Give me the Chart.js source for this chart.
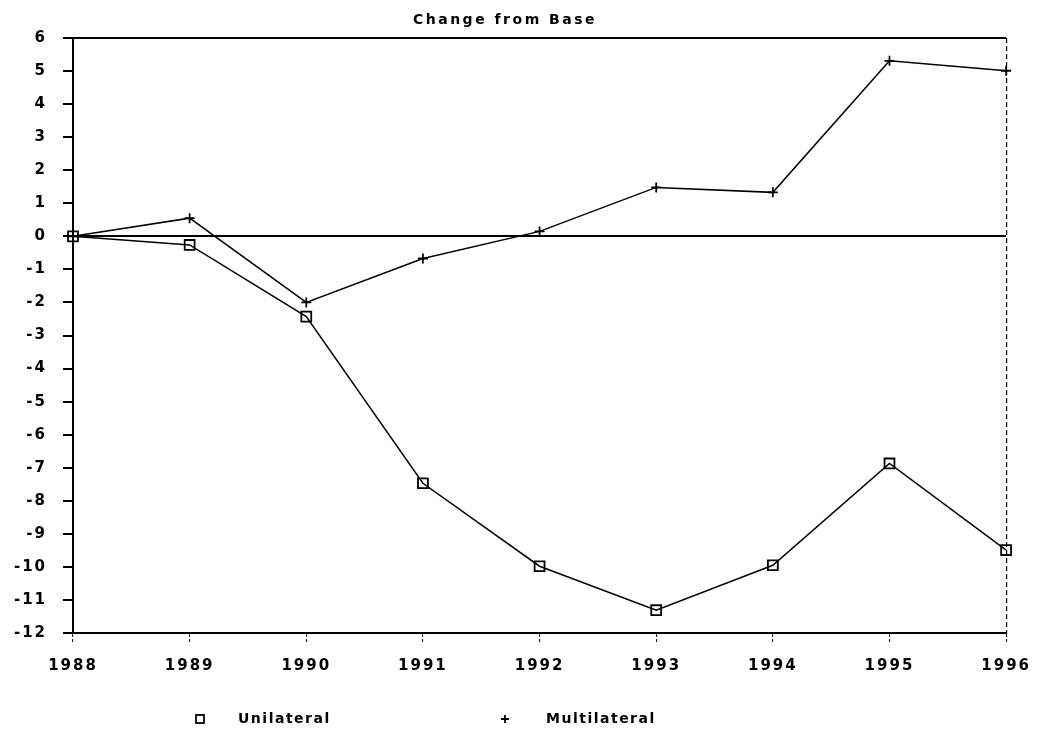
<!DOCTYPE html>
<html>
<head>
<meta charset="utf-8">
<script src="https://cdn.jsdelivr.net/npm/chart.js@4"></script>
<style>
html, body { margin: 0; padding: 0; background: #fff; }
#contenedor { width: 1041px; height: 738px; }
</style>
</head>
<body>
<div id="contenedor"><canvas id="grafica"></canvas></div>
<script>
const anios = ['1988', '1989', '1990', '1991', '1992', '1993', '1994', '1995', '1996'];
const unilateral = [0, -0.26, -2.43, -7.47, -9.98, -11.31, -9.95, -6.87, -9.49];
const multilateral = [0, 0.55, -2.0, -0.67, 0.15, 1.48, 1.33, 5.31, 5.01];
const ticksY = [6, 5, 4, 3, 2, 1, 0, -1, -2, -3, -4, -5, -6, -7, -8, -9, -10, -11, -12];
const titulo = 'Change from Base';
const nombres = ['Unilateral', 'Multilateral'];

const fuente = '"DejaVu Sans", sans-serif';

// espaciado de letras como en el original
const espaciado = {
    id: 'espaciado',
    beforeDraw(chart) {
        chart.ctx.letterSpacing = '2px';
    }
};

// titulo y leyenda dibujados a mano
const textos = {
    id: 'textos',
    afterDraw(chart) {
        const ctx = chart.ctx;
        ctx.save();
        ctx.fillStyle = '#000';
        ctx.strokeStyle = '#000';
        ctx.letterSpacing = '2.5px';
        ctx.font = 'bold 14px ' + fuente;
        ctx.textAlign = 'center';
        ctx.textBaseline = 'middle';
        ctx.fillText(titulo, 505, 20);

        ctx.letterSpacing = '1.5px';
        ctx.font = 'bold 14px ' + fuente;
        ctx.textAlign = 'left';
        const yLey = 719;
        // cuadro
        ctx.lineWidth = 1.8;
        ctx.strokeRect(200 - 4, yLey - 4, 8, 8);
        ctx.fillText(nombres[0], 238, yLey);
        // cruz
        ctx.beginPath();
        ctx.moveTo(505 - 4, yLey);
        ctx.lineTo(505 + 4, yLey);
        ctx.moveTo(505, yLey - 4);
        ctx.lineTo(505, yLey + 4);
        ctx.stroke();
        ctx.fillText(nombres[1], 546, yLey);
        ctx.restore();
    }
};

var grafica = new Chart(document.getElementById('grafica'), {
    type: 'line',
    data: {
        labels: anios,
        datasets: [
            {
                label: nombres[0],
                data: unilateral,
                borderColor: '#000',
                borderWidth: 1.5,
                pointStyle: 'rect',
                pointRadius: 7,
                pointBorderWidth: 1.8,
                pointBorderColor: '#000',
                pointBackgroundColor: 'rgba(0,0,0,0)',
                tension: 0,
                clip: false
            },
            {
                label: nombres[1],
                data: multilateral,
                borderColor: '#000',
                borderWidth: 1.5,
                pointStyle: 'cross',
                pointRadius: 5,
                pointBorderWidth: 1.8,
                pointBorderColor: '#000',
                tension: 0,
                clip: false
            }
        ]
    },
    options: {
        responsive: true,
        maintainAspectRatio: false,
        animation: false,
        layout: { padding: { top: 38, right: 30, bottom: 0, left: 0 } },
        plugins: {
            legend: { display: false },
            title: { display: false },
            tooltip: { enabled: false }
        },
        scales: {
            x: {
                offset: false,
                afterFit: s => { s.height = 105; },
                border: { display: true, color: '#000', width: 2, dash: [5, 3] },
                grid: {
                    color: c => c.index === anios.length - 1 ? '#000' : 'rgba(0,0,0,0)',
                    lineWidth: 1.2,
                    tickColor: '#000',
                    tickLength: 10,
                    tickWidth: 1,
                    tickBorderDash: [3, 2]
                },
                ticks: {
                    color: '#000',
                    padding: 14,
                    maxRotation: 0,
                    font: { family: fuente, size: 15, weight: 'bold' }
                }
            },
            y: {
                min: -12,
                max: 6,
                afterFit: s => { s.width = 73; },
                afterBuildTicks: s => { s.ticks = ticksY.map(v => ({ value: v })); },
                border: { display: true, color: '#000', width: 2 },
                grid: {
                    color: c => [0, 6, -12].includes(c.tick.value) ? '#000' : 'rgba(0,0,0,0)',
                    lineWidth: 2,
                    tickColor: '#000',
                    tickLength: 10,
                    tickWidth: 2
                },
                ticks: {
                    color: '#000',
                    padding: 16,
                    font: { family: fuente, size: 15, weight: 'bold' }
                }
            }
        }
    },
    plugins: [espaciado, textos]
});
</script>
</body>
</html>
